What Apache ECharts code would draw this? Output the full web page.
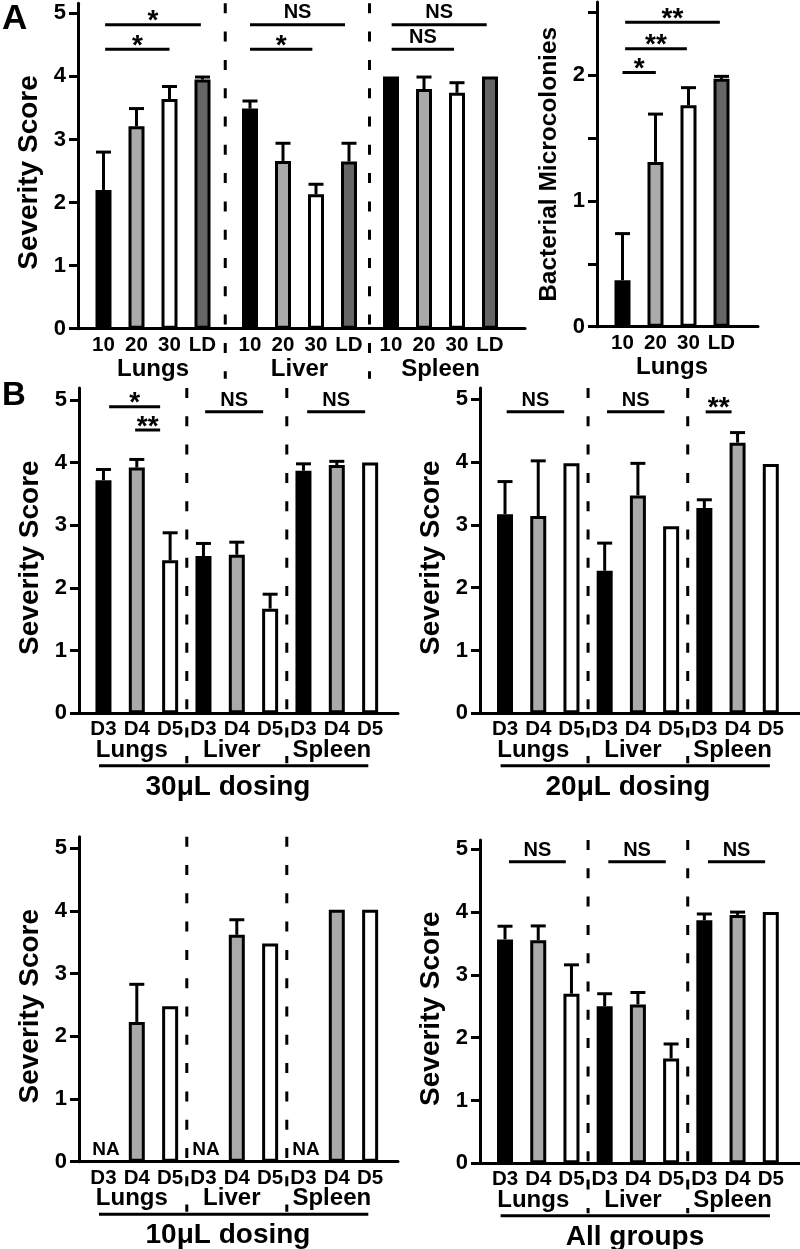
<!DOCTYPE html>
<html>
<head>
<meta charset="utf-8">
<script src="https://cdn.jsdelivr.net/npm/echarts@6/dist/echarts.min.js"></script>
<style>html,body{margin:0;padding:0;background:#fff}#c{width:800px;height:1249px}</style>
</head>
<body>
<div id="c"></div>
<script>
// ================= DATA =================
// Panel A (left): severity score by dose group
const doseCats = ['10', '20', '30', 'LD'];
const organCats = ['Lungs', 'Liver', 'Spleen'];
const aLungsMean  = [2.20, 3.21, 3.64, 3.95];
const aLungsSem   = [0.60, 0.28, 0.20, 0.04];
const aLiverMean  = [3.49, 2.66, 2.13, 2.65];
const aLiverSem   = [0.12, 0.28, 0.16, 0.29];
const aSpleenMean = [4.00, 3.80, 3.74, 4.00];
const aSpleenSem  = [0.00, 0.19, 0.16, 0.00];
// significance brackets: [from position, to position, level, label]
const aLungsSig  = [[0.05, 2.95, 4.82, '*'], [0.05, 2.00, 4.43, '*']];
const aLiverSig  = [[0.00, 2.88, 4.82, 'NS'], [0.00, 1.89, 4.43, '*']];
const aSpleenSig = [[0.02, 2.90, 4.82, 'NS'], [0.02, 1.91, 4.43, 'NS']];

// Panel A (right): bacterial microcolonies, lungs
const microMean = [0.37, 1.31, 1.76, 1.97];
const microSem  = [0.37, 0.38, 0.14, 0.02];
const microSig  = [[0.08, 2.95, 2.42, '**'], [0.08, 1.95, 2.21, '**'], [0.00, 1.01, 2.02, '*']];

// Panel B: day of sacrifice within each organ
const dayCats = ['D3', 'D4', 'D5', 'D3', 'D4', 'D5', 'D3', 'D4', 'D5'];
const b30Mean = [3.72, 3.92, 2.44, 2.51, 2.53, 1.67, 3.87, 3.96, 4.00];
const b30Sem  = [0.17, 0.13, 0.44, 0.20, 0.20, 0.23, 0.11, 0.06, 0.00];
const b30Sig  = [[0.17, 1.70, 4.89, '*'], [0.95, 1.70, 4.52, '**'], [3.05, 4.79, 4.81, 'NS'], [6.11, 7.85, 4.81, 'NS']];
const b20Mean = [3.17, 3.14, 3.98, 2.27, 3.47, 2.98, 3.27, 4.31, 3.97];
const b20Sem  = [0.52, 0.88, 0.00, 0.44, 0.51, 0.00, 0.13, 0.16, 0.00];
const b20Sig  = [[0.05, 1.78, 4.80, 'NS'], [3.07, 4.80, 4.80, 'NS'], [6.04, 6.82, 4.80, '**']];
const b10Mean = [null, 2.23, 2.48, null, 3.62, 3.48, null, 4.02, 4.02];
const b10Sem  = [0.00, 0.60, 0.00, 0.00, 0.24, 0.00, 0.00, 0.00, 0.00];
const b10Sig  = [];
const bAllMean = [3.565, 3.55, 2.70, 2.50, 2.53, 1.67, 3.87, 3.955, 4.00];
const bAllSem  = [0.21, 0.23, 0.46, 0.20, 0.19, 0.23, 0.10, 0.045, 0.00];
const bAllSig  = [[0.12, 1.83, 4.80, 'NS'], [3.11, 4.84, 4.80, 'NS'], [6.11, 7.83, 4.80, 'NS']];

// Axis ticks / labels
const sevTicks = [0, 1, 2, 3, 4, 5];
const sevLabels = [0, 1, 2, 3, 4, 5];
const microTicks = [0, 0.5, 1, 1.5, 2, 2.5];
const microLabels = [0, 1, 2];

// Bar fills
const doseColors = ['#000000', '#aaaaaa', '#ffffff', '#656565'];
const dayColors = ['#000000', '#aaaaaa', '#ffffff'];

// ================= BUILD =================
const FONT = '"Liberation Sans", Arial, Helvetica, sans-serif';
const fnt = (s, w) => (w || 'bold') + ' ' + s + 'px ' + FONT;
const grids = [], xAxes = [], yAxes = [], series = [], graphics = [];

function frame(f) {
  const g = grids.length;
  grids.push({left: f.left, top: f.top, width: f.right - f.left, height: f.zero - f.top,
    containLabel: false, outerBoundsMode: 'none'});
  xAxes.push({gridIndex: g, type: 'value', min: 0, max: 1,
    axisLine: {show: true, onZero: false, lineStyle: {color: '#000', width: 3}},
    axisTick: {show: false}, axisLabel: {show: false}, splitLine: {show: false}});
  yAxes.push({gridIndex: g, type: 'value', min: 0, max: f.max,
    axisLine: {show: true, onZero: false, lineStyle: {color: '#000', width: 3}},
    axisTick: {show: true, length: 9, lineStyle: {color: '#000', width: 3}, customValues: f.ticks},
    axisLabel: {customValues: f.labels, margin: 12, color: '#000', fontFamily: FONT, fontWeight: 'bold', fontSize: 22},
    splitLine: {show: false},
    name: f.name, nameLocation: 'middle', nameRotate: 90, nameGap: f.nameGap, nameMoveOverlap: false,
    nameTextStyle: {color: '#000', fontFamily: FONT, fontWeight: 'bold', fontSize: f.nameSize, padding: f.namePad}
  });
}

function inner(o) {
  const g = grids.length;
  grids.push({left: o.left, top: o.top, width: o.width, height: o.zero - o.top,
    containLabel: false, outerBoundsMode: 'none'});
  const xi = xAxes.length;
  xAxes.push({gridIndex: g, type: 'category', data: o.cats, position: 'bottom',
    axisLine: {show: false, onZero: false}, axisTick: {show: false}, splitLine: {show: false},
    axisLabel: {interval: 0, margin: 6, color: '#000', fontFamily: FONT, fontWeight: 'bold', fontSize: 20.5},
    name: o.name || '', nameLocation: 'middle', nameGap: 29, nameMoveOverlap: false,
    nameTextStyle: {color: '#000', fontFamily: FONT, fontWeight: 'bold', fontSize: 24}});
  if (o.groups) {
    xAxes.push({gridIndex: g, type: 'category', data: o.groups, position: 'bottom', offset: 0,
      axisLine: {show: false, onZero: false}, axisTick: {show: false}, splitLine: {show: false},
      axisLabel: {interval: 0, margin: 25, color: '#000', fontFamily: FONT, fontWeight: 'bold', fontSize: 24,
        padding: [0, 10, 0, 0]}});
  }
  const yi = yAxes.length;
  yAxes.push({gridIndex: g, type: 'value', min: 0, max: o.max, show: false});

  series.push({type: 'bar', xAxisIndex: xi, yAxisIndex: yi, barWidth: 16, silent: true, z: 2,
    data: o.mean.map((v, i) => ({value: v == null ? '-' : v, itemStyle: {color: o.colors[i % o.colors.length]}})),
    itemStyle: {borderColor: '#000', borderWidth: 3}});

  // error bars (upper only)
  series.push({type: 'custom', xAxisIndex: xi, yAxisIndex: yi, z: 3, silent: true, clip: false,
    data: o.mean.map((v, i) => [i, v == null ? 0 : v, o.sem[i] || 0]),
    renderItem: (params, api) => {
      const i = api.value(0), m = api.value(1), e = api.value(2);
      if (!(e > 0)) return null;
      const p0 = api.coord([i, m]), p1 = api.coord([i, m + e]);
      return {type: 'group', children: [
        {type: 'line', shape: {x1: p0[0], y1: p0[1], x2: p1[0], y2: p1[1]}, style: {stroke: '#000', lineWidth: 3}},
        {type: 'line', shape: {x1: p1[0] - 7.5, y1: p1[1], x2: p1[0] + 7.5, y2: p1[1]}, style: {stroke: '#000', lineWidth: 3}}
      ]};
    }});

  // significance brackets
  if (o.sig && o.sig.length) {
    series.push({type: 'custom', xAxisIndex: xi, yAxisIndex: yi, z: 3, silent: true, clip: false,
      data: o.sig.map(s => [0, s[2]]),
      renderItem: (params, api) => {
        const s = o.sig[params.dataIndex];
        const p = api.coord([0, s[2]]);
        const step = api.coord([1, s[2]])[0] - p[0];
        const x1 = p[0] + s[0] * step, x2 = p[0] + s[1] * step, y = p[1];
        const star = s[3] !== 'NS';
        const ty = star ? y - 3.2 : y - 11.7;
        return {type: 'group', children: [
          {type: 'line', shape: {x1: x1, y1: y, x2: x2, y2: y}, style: {stroke: '#000', lineWidth: 3}},
          {type: 'text', x: (x1 + x2) / 2, y: ty, style: {text: s[3], font: fnt(star ? 28 : 20), fill: '#000',
            align: 'center', verticalAlign: 'middle', textAlign: 'center', textVerticalAlign: 'middle'}}
        ]};
      }});
  }

  // NA markers for missing groups
  const naIdx = o.mean.map((v, i) => v == null ? i : -1).filter(i => i >= 0);
  if (naIdx.length) {
    series.push({type: 'custom', xAxisIndex: xi, yAxisIndex: yi, z: 3, silent: true, clip: false,
      data: naIdx.map(i => [i, 0]),
      renderItem: (params, api) => {
        const p = api.coord([api.value(0), 0]);
        return {type: 'text', x: p[0] + 2.5, y: p[1] - 11.5, style: {text: 'NA', font: fnt(19), fill: '#000',
          align: 'center', verticalAlign: 'middle', textAlign: 'center', textVerticalAlign: 'middle'}};
      }});
  }
}

function dash(x, y1, y2) {
  graphics.push({type: 'line', silent: true, shape: {x1: x, y1: y1, x2: x, y2: y2},
    style: {stroke: '#000', lineWidth: 3, lineDash: [10, 18.3]}});
}
function hline(x1, x2, y) {
  graphics.push({type: 'line', silent: true, shape: {x1: x1, y1: y, x2: x2, y2: y},
    style: {stroke: '#000', lineWidth: 3}});
}
function label(text, x, y, size, align) {
  graphics.push({type: 'text', silent: true, x: x, y: y, style: {text: text, font: fnt(size), fill: '#000',
    align: align || 'center', verticalAlign: 'middle', textAlign: align || 'center', textVerticalAlign: 'middle'}});
}

// ---- Panel A left ----
const A = {left: 78, right: 525, top: 3.3, zero: 328.7, max: 5.159};
frame({left: A.left, right: A.right, top: A.top, zero: A.zero, max: A.max, ticks: sevTicks, labels: sevLabels,
  name: 'Severity Score', nameGap: 35, nameSize: 28, namePad: [0, 13, 0, 0]});
const aInnerLeft = [87, 233.5, 374.5], aInnerW = 132;
const aMeans = [aLungsMean, aLiverMean, aSpleenMean];
const aSems = [aLungsSem, aLiverSem, aSpleenSem];
const aSigs = [aLungsSig, aLiverSig, aSpleenSig];
organCats.forEach((org, k) => {
  inner({left: aInnerLeft[k], width: aInnerW, top: A.top, zero: A.zero, max: A.max, cats: doseCats,
    colors: doseColors, mean: aMeans[k], sem: aSems[k], sig: aSigs[k], name: org});
});
dash((aInnerLeft[0] + aInnerW + aInnerLeft[1]) / 2 - 1, A.top, A.zero + 50);
dash((aInnerLeft[1] + aInnerW + aInnerLeft[2]) / 2 - 0.5, A.top, A.zero + 50);

// ---- Panel A right ----
const M = {left: 597, right: 758, top: 2, zero: 326.7, max: 2.581};
frame({left: M.left, right: M.right, top: M.top, zero: M.zero, max: M.max, ticks: microTicks, labels: microLabels,
  name: 'Bacterial Microcolonies', nameGap: 35.5, nameSize: 24.5, namePad: [0, 0, 0, 0]});
inner({left: 606, width: 132, top: M.top, zero: M.zero, max: M.max, cats: doseCats, colors: doseColors,
  mean: microMean, sem: microSem, sig: microSig, name: 'Lungs'});

// ---- Panel B ----
const B = [
  {left: 79, right: 398, top: 388, zero: 713.3, max: 5.19, il: 86.8, iw: 300, mean: b30Mean, sem: b30Sem, sig: b30Sig, title: '30\u03bcL dosing', tx: 228},
  {left: 480, right: 800, top: 388, zero: 713.3, max: 5.18, il: 488.4, iw: 299, mean: b20Mean, sem: b20Sem, sig: b20Sig, title: '20\u03bcL dosing', tx: 628},
  {left: 79, right: 398, top: 836.7, zero: 1161.7, max: 5.185, il: 86.8, iw: 300, mean: b10Mean, sem: b10Sem, sig: b10Sig, title: '10\u03bcL dosing', tx: 228},
  {left: 480, right: 800, top: 840, zero: 1163.3, max: 5.148, il: 488.4, iw: 299, mean: bAllMean, sem: bAllSem, sig: bAllSig, title: 'All groups', tx: 635}
];
B.forEach(p => {
  frame({left: p.left, right: p.right, top: p.top, zero: p.zero, max: p.max, ticks: sevTicks, labels: sevLabels,
    name: 'Severity Score', nameGap: 35, nameSize: 28, namePad: [0, 14, 0, 0]});
  inner({left: p.il, width: p.iw, top: p.top, zero: p.zero, max: p.max, cats: dayCats, colors: dayColors,
    mean: p.mean, sem: p.sem, sig: p.sig, groups: organCats});
  const step = p.iw / dayCats.length;
  dash(p.il + 3 * step, p.top, p.zero + 50);
  dash(p.il + 6 * step, p.top, p.zero + 50);
  hline(p.il + 12.2, p.il + 281.5, p.zero + 52.5);
  label(p.title, p.tx, p.zero + 74, 28);
});

label('A', 2, 19, 35, 'left');
label('B', 2, 396, 33, 'left');

const chart = echarts.init(document.getElementById('c'), null, {renderer: 'canvas'});
chart.setOption({
  animation: false,
  backgroundColor: '#ffffff',
  textStyle: {fontFamily: FONT},
  grid: grids, xAxis: xAxes, yAxis: yAxes, series: series,
  graphic: {elements: graphics}
});
</script>
</body>
</html>
